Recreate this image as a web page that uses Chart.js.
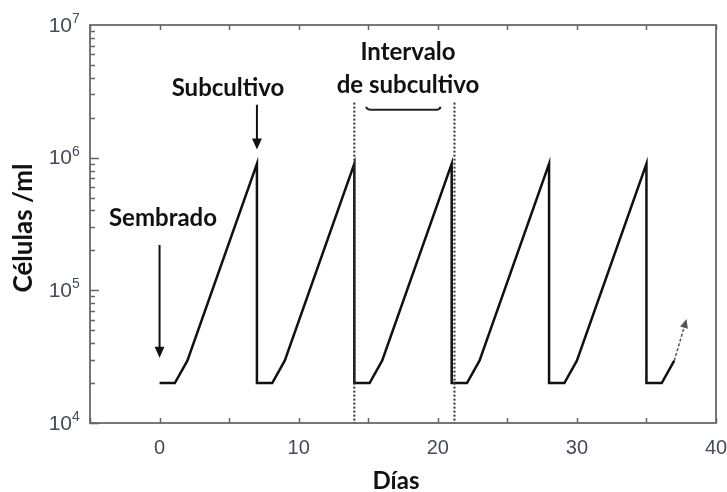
<!DOCTYPE html>
<html>
<head>
<meta charset="utf-8">
<script src="https://cdn.jsdelivr.net/npm/chart.js@4/dist/chart.umd.min.js"></script>
<style>
  html, body { margin: 0; padding: 0; background: #fff; }
  #wrap { width: 727px; height: 492px; }
</style>
</head>
<body>
<div id="wrap"><canvas id="myChart" width="727" height="492"></canvas></div>
<script>
/* globals Chart:false */

// culture curve (days, cells/ml)
const days = [0, 1.1, 2, 7, 7, 8.1, 9, 14, 14, 15.1, 16, 21, 21, 22.1, 23, 28, 28, 29.1, 30, 35, 35, 36.1, 37];
const cells = [2e4, 2e4, 2.95e4, 9e5, 2e4, 2e4, 2.95e4, 9e5, 2e4, 2e4, 2.95e4, 9e5, 2e4, 2e4, 2.95e4, 9e5, 2e4, 2e4, 2.95e4, 9e5, 2e4, 2e4, 2.95e4];
// continuation arrow at the end
const tailDays = [37, 37.8];
const tailCells = [2.95e4, 5.7e4];

const xTicks = [0, 10, 20, 30, 40];
const yTicks = [1e4, 1e5, 1e6, 1e7];

// dotted subculture interval markers
const intervalDays = [14, 21.2];
const intervalTop = 2.6e6;

(() => {
  "use strict";

  const ctx = document.getElementById("myChart");
  const boldFont = "bold 24px Lato, 'Open Sans', sans-serif";
  const tickColor = "#474b55";

  const toPts = (xs, ys) => xs.map((x, i) => ({ x: x, y: ys[i] }));

  function arrowHead(c, x, y, dir, size) {
    const [dx, dy] = dir;
    const px = -dy, py = dx;
    c.beginPath();
    c.moveTo(x, y);
    c.lineTo(x - dx * size + px * size * 0.45, y - dy * size + py * size * 0.45);
    c.lineTo(x - dx * size - px * size * 0.45, y - dy * size - py * size * 0.45);
    c.closePath();
    c.fill();
  }

  const decor = {
    id: "decor",
    afterDatasetsDraw(chart) {
      const c = chart.ctx;
      const xs = chart.scales.x, ys = chart.scales.y;
      const a = chart.chartArea;
      const X = (v) => xs.getPixelForValue(v);
      const Y = (v) => ys.getPixelForValue(v);
      c.save();

      // frame
      c.strokeStyle = "#777";
      c.lineWidth = 2;
      c.strokeRect(a.left, a.top, a.right - a.left, a.bottom - a.top);

      // inward ticks
      c.lineWidth = 1.5;
      c.strokeStyle = "#666";
      c.beginPath();
      for (let d = 4; d < 7; d++) {
        for (let m = 1; m < 10; m++) {
          const py = Math.round(Y(m * Math.pow(10, d))) + 0.5;
          const len = m === 1 ? 9 : 5;
          c.moveTo(a.left, py);
          c.lineTo(a.left + len, py);
        }
      }
      for (let v = -5; v <= 40; v += 5) {
        const px = Math.round(X(v)) + 0.5;
        c.moveTo(px, a.bottom);
        c.lineTo(px, a.bottom - 5);
        c.moveTo(px, a.top);
        c.lineTo(px, a.top + 5);
      }
      c.stroke();

      // y tick labels: 10 with raised exponent
      c.fillStyle = tickColor;
      c.textBaseline = "middle";
      yTicks.forEach((v) => {
        const py = Y(v);
        c.font = "21px 'Liberation Sans', Arial, sans-serif";
        c.textAlign = "right";
        c.fillText("10", 72, py + 1);
        c.font = "14px 'Liberation Sans', Arial, sans-serif";
        c.textAlign = "left";
        c.fillText(String(Math.round(Math.log10(v))), 72, py - 6);
      });

      // dotted interval lines
      c.strokeStyle = "#333";
      c.lineWidth = 2;
      c.setLineDash([2, 2]);
      intervalDays.forEach((d) => {
        c.beginPath();
        c.moveTo(X(d), Y(intervalTop));
        c.lineTo(X(d), a.bottom);
        c.stroke();
      });
      c.setLineDash([]);

      // bracket
      const by = Y(2.3e6);
      c.strokeStyle = "#222";
      c.lineWidth = 2;
      c.beginPath();
      c.moveTo(X(14.85), by - 3);
      c.quadraticCurveTo(X(14.9), by, X(15.2), by);
      c.lineTo(X(19.9), by);
      c.quadraticCurveTo(X(20.15), by, X(20.2), by - 3);
      c.stroke();

      // tail arrow
      c.strokeStyle = "#555";
      c.fillStyle = "#555";
      c.lineWidth = 1.5;
      c.setLineDash([3, 2]);
      const t0x = X(tailDays[0]), t0y = Y(tailCells[0]);
      const t1x = X(tailDays[1]), t1y = Y(tailCells[1]);
      c.beginPath();
      c.moveTo(t0x, t0y);
      c.lineTo(t1x, t1y);
      c.stroke();
      c.setLineDash([]);
      const L = Math.hypot(t1x - t0x, t1y - t0y);
      arrowHead(c, t1x + (t1x - t0x) / L * 4, t1y + (t1y - t0y) / L * 4, [(t1x - t0x) / L, (t1y - t0y) / L], 9);

      // annotation arrows
      c.strokeStyle = "#111";
      c.fillStyle = "#111";
      c.lineWidth = 2;
      c.beginPath();
      c.moveTo(X(7), Y(2.5e6));
      c.lineTo(X(7), Y(1.25e6));
      c.moveTo(X(0), Y(2.2e5));
      c.lineTo(X(0), Y(3.4e4));
      c.stroke();
      arrowHead(c, X(7), Y(1.15e6), [0, 1], 11);
      arrowHead(c, X(0), Y(3.1e4), [0, 1], 11);

      // labels
      c.fillStyle = "#111";
      c.font = boldFont;
      c.textAlign = "center";
      c.textBaseline = "middle";
      c.fillText("Subcultivo", 228, 88);
      c.fillText("Sembrado", 163, 218);
      c.fillText("Intervalo", 408, 52);
      c.fillText("de subcultivo", 408, 85);

      // axis titles
      c.fillText("Días", 396, 481);
      c.save();
      c.translate(24, 228);
      c.rotate(-Math.PI / 2);
      c.font = "bold 26px Lato, 'Open Sans', sans-serif";
      c.fillText("Células /ml", 0, 0);
      c.restore();

      c.restore();
    },
  };

  // eslint-disable-next-line no-unused-vars
  const myChart = new Chart(ctx, {
    type: "scatter",
    data: {
      datasets: [
        {
          data: toPts(days, cells),
          showLine: true,
          borderColor: "#111",
          borderWidth: 2.5,
          pointRadius: 0,
          tension: 0,
        },
      ],
    },
    options: {
      responsive: false,
      animation: false,
      layout: { padding: { left: 0, right: 11, top: 25, bottom: 0 } },
      plugins: {
        legend: { display: false },
        tooltip: { enabled: false },
      },
      scales: {
        x: {
          type: "linear",
          min: -5,
          max: 40,
          afterFit: (s) => {
            s.height = 69;
            s.paddingLeft = 0;
            s.paddingRight = 0;
          },
          grid: { display: false, drawTicks: false },
          border: { display: false },
          afterBuildTicks: (s) => { s.ticks = xTicks.map((v) => ({ value: v })); },
          ticks: {
            padding: 13,
            color: tickColor,
            font: { family: "'Liberation Sans', Arial, sans-serif", size: 20 },
            callback: (v) => String(v),
          },
        },
        y: {
          type: "logarithmic",
          min: 1e4,
          max: 1e7,
          afterFit: (s) => {
            s.width = 90;
            s.paddingTop = 0;
            s.paddingBottom = 0;
          },
          grid: { display: false, drawTicks: false },
          border: { display: false },
          afterBuildTicks: (s) => { s.ticks = yTicks.map((v) => ({ value: v })); },
          ticks: { display: false },
        },
      },
    },
    plugins: [decor],
  });
})();
</script>
</body>
</html>
